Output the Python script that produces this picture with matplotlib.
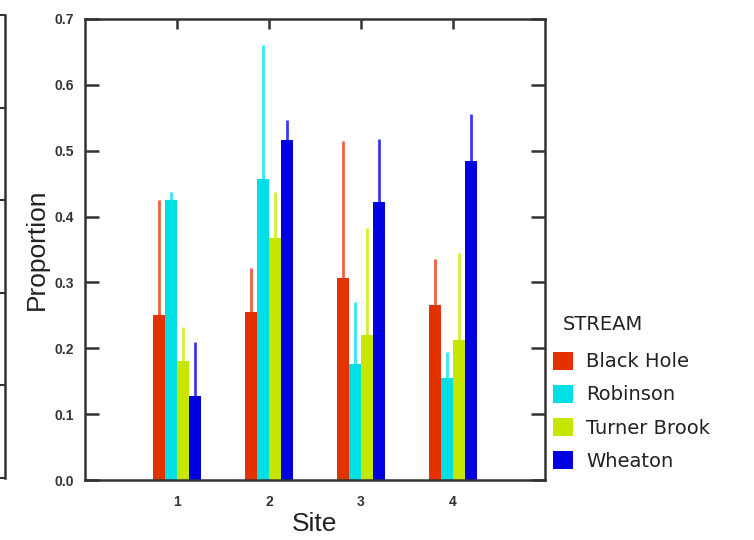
import numpy as np
import matplotlib
matplotlib.use("Agg")
import matplotlib.pyplot as plt
from matplotlib.patches import Patch

plt.rcParams['font.family'] = ['Liberation Sans', 'DejaVu Sans']

sites = [1, 2, 3, 4]
streams = ["Black Hole", "Robinson", "Turner Brook", "Wheaton"]

black_hole = [0.250, 0.255, 0.307, 0.265]
robinson = [0.425, 0.457, 0.176, 0.155]
turner_brook = [0.180, 0.368, 0.220, 0.213]
wheaton = [0.128, 0.517, 0.422, 0.485]

# upper ends of the error bars
black_hole_hi = [0.425, 0.322, 0.515, 0.335]
robinson_hi = [0.437, 0.660, 0.270, 0.195]
turner_brook_hi = [0.232, 0.437, 0.382, 0.345]
wheaton_hi = [0.210, 0.547, 0.518, 0.555]

means = [black_hole, robinson, turner_brook, wheaton]
highs = [black_hole_hi, robinson_hi, turner_brook_hi, wheaton_hi]
bar_colors = ["#e33200", "#00e0e4", "#c6e600", "#0000e0"]
err_colors = ["#f2603e", "#30ecf2", "#d6f030", "#3a3af0"]
frame_color = "#333333"

fig = plt.figure(figsize=(7.54, 5.4), dpi=100)

# neighbouring panel, only its right edge is in view
ax0 = fig.add_axes([-0.5, 1 - 478 / 540, 0.5066, (478 - 15) / 540])
for s in ["left", "top", "bottom"]:
    ax0.spines[s].set_visible(False)
ax0.spines["right"].set_color(frame_color)
ax0.spines["right"].set_linewidth(1.8)
ax0.set_ylim(0, 5)
ax0.set_yticks(np.arange(0, 6))
ax0.yaxis.tick_right()
ax0.tick_params(axis="y", direction="in", length=6, width=1.5, color=frame_color,
                labelright=False)
ax0.set_xticks([])

ax = fig.add_axes([85 / 754, 1 - 480 / 540, 460 / 754, 461 / 540])
x = np.array(sites, dtype=float)
w = 0.13
offsets = (np.arange(4) - 1.5) * w
for i in range(4):
    xs = x + offsets[i]
    ax.bar(xs, means[i], width=w, color=bar_colors[i], edgecolor="none",
           zorder=2, label=streams[i])
    lo = np.zeros(len(sites))
    up = np.array(highs[i]) - np.array(means[i])
    ax.errorbar(xs, means[i], yerr=[lo, up], fmt="none", ecolor=err_colors[i],
                elinewidth=2, capsize=0, zorder=1)

ax.set_xlim(0, 5)
ax.set_ylim(0, 0.7)
yt = np.arange(0, 0.71, 0.1)
ax.set_yticks(yt)
ax.set_yticklabels([f"{v:.1f}" for v in yt], fontweight="bold", color=frame_color)
ax.set_xticks(sites)
ax.set_xticklabels([str(s) for s in sites], fontweight="bold", color=frame_color)
for s in ax.spines.values():
    s.set_color(frame_color)
    s.set_linewidth(1.8)
ax.tick_params(axis="y", which="both", direction="in", length=10, width=1.8,
               color=frame_color, right=True, labelsize=10, pad=8)
ax.tick_params(axis="x", direction="in", length=0, top=False, labelsize=10, pad=11)
# site ticks along the top edge
for xv in sites:
    ax.plot([xv, xv], [0.7, 0.7 - 0.7 * 10 / 461], color=frame_color, lw=1.8,
            clip_on=False, zorder=3, solid_capstyle="butt")

ax.set_ylabel("Proportion", fontsize=19, labelpad=4, color="#222222")
ax.set_xlabel("Site", fontsize=19, labelpad=2, color="#222222")

handles = [Patch(facecolor=c, edgecolor="none") for c in bar_colors]
fig.text(563 / 754, 1 - 325 / 540, "STREAM", fontsize=14, va="center", ha="left",
         family=["DejaVu Sans"], color="#222222")
leg = fig.legend(handles, streams, loc="upper left",
                 bbox_to_anchor=(545 / 754, 1 - 344 / 540), frameon=False,
                 prop={"family": "DejaVu Sans", "size": 14},
                 handlelength=1.03, handleheight=1.03, handletextpad=0.7,
                 labelspacing=0.7, borderaxespad=0, borderpad=0.4)
for t in leg.get_texts():
    t.set_color("#222222")

fig.savefig("out.png", dpi=100)
